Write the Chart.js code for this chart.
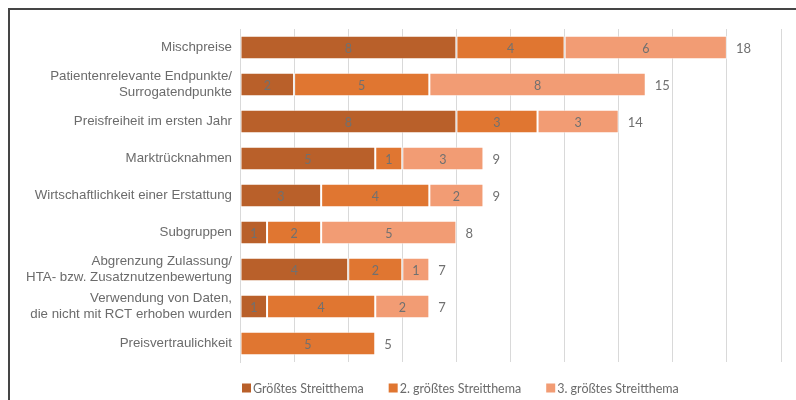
<!DOCTYPE html>
<html>
<head>
<meta charset="utf-8">
<script src="https://cdn.jsdelivr.net/npm/chart.js@4/dist/chart.umd.min.js"></script>
<style>
  html, body { margin: 0; padding: 0; background: #fff; }
  #wrap { position: relative; width: 796px; height: 400px; overflow: hidden; }
  #frame { position: absolute; left: 8px; top: 8px; width: 900px; height: 500px;
           border-left: 2px solid #454545; border-top: 2px solid #454545; box-sizing: border-box; }
  canvas { position: absolute; left: 0; top: 0; }
</style>
</head>
<body>
<div id="wrap">
  <div id="frame"></div>
  <canvas id="c" width="796" height="400"></canvas>
</div>
<script>
// Streitthemen in den Verhandlungen, nach Rang der Nennung
const categories = [
  'Mischpreise',
  ['Patientenrelevante Endpunkte/', 'Surrogatendpunkte'],
  'Preisfreiheit im ersten Jahr',
  'Marktrücknahmen',
  'Wirtschaftlichkeit einer Erstattung',
  'Subgruppen',
  ['Abgrenzung Zulassung/', 'HTA- bzw. Zusatznutzenbewertung'],
  ['Verwendung von Daten,', 'die nicht mit RCT erhoben wurden'],
  'Preisvertraulichkeit'
];
const seriesNames = ['Größtes Streitthema', '2. größtes Streitthema', '3. größtes Streitthema'];
const groesstes = [8, 2, 8, 5, 3, 1, 4, 1, 0];
const zweites   = [4, 5, 3, 1, 4, 2, 2, 4, 5];
const drittes   = [6, 8, 3, 3, 2, 5, 1, 2, 0];
const xTicks = [0, 2, 4, 6, 8, 10, 12, 14, 16, 18, 20];

const colors = ['#B9602A', '#E07631', '#F29C74'];
const seriesValues = [groesstes, zweites, drittes];

const totals = categories.map((_, i) => seriesValues.reduce((s, arr) => s + arr[i], 0));

const labelFont = 'Lato, "Open Sans", sans-serif';

// Writes segment values inside the bars and the row totals behind them
const valueLabels = {
  id: 'valueLabels',
  afterDatasetsDraw(chart) {
    const ctx = chart.ctx;
    ctx.save();
    ctx.font = '12.5px ' + labelFont;
    ctx.textBaseline = 'middle';
    ctx.fillStyle = '#707070';
    chart.data.datasets.forEach((ds, di) => {
      const meta = chart.getDatasetMeta(di);
      meta.data.forEach((bar, i) => {
        const v = ds.data[i];
        if (!v) return;
        ctx.textAlign = 'center';
        ctx.fillText(String(v), (bar.x + bar.base) / 2, bar.y + 1);
      });
    });
    const xScale = chart.scales.x;
    const firstMeta = chart.getDatasetMeta(0);
    ctx.font = '13px ' + labelFont;
    ctx.textAlign = 'left';
    totals.forEach((t, i) => {
      const y = firstMeta.data[i].y;
      ctx.fillText(String(t), xScale.getPixelForValue(t) + 9, y + 1);
    });
    ctx.restore();
  }
};

// Legend row under the plot, starting at the plot's left edge
const bottomLegend = {
  id: 'bottomLegend',
  afterDraw(chart) {
    const ctx = chart.ctx;
    const area = chart.chartArea;
    ctx.save();
    ctx.font = '12.5px ' + labelFont;
    ctx.textBaseline = 'middle';
    ctx.textAlign = 'left';
    const y = area.bottom + 26;
    let x = area.left + 2;
    chart.data.datasets.forEach((ds) => {
      ctx.fillStyle = ds.backgroundColor;
      ctx.fillRect(x, y - 4.5, 9, 9);
      ctx.fillStyle = '#6b6b6b';
      ctx.fillText(ds.label, x + 11, y + 0.5);
      x += 11 + ctx.measureText(ds.label).width + 25;
    });
    ctx.restore();
  }
};

new Chart(document.getElementById('c'), {
  type: 'bar',
  data: {
    labels: categories,
    datasets: seriesNames.map((name, k) => ({
      label: name,
      data: seriesValues[k],
      backgroundColor: colors[k],
      borderColor: 'rgba(255,255,255,0.55)',
      borderWidth: 1,
      borderSkipped: false,
      barPercentage: 0.63,
      categoryPercentage: 1
    }))
  },
  options: {
    indexAxis: 'y',
    responsive: false,
    animation: false,
    layout: { padding: { top: 29, right: 15, left: 0, bottom: 38 } },
    scales: {
      x: {
        stacked: true,
        min: 0,
        max: 20,
        afterBuildTicks: (s) => { s.ticks = xTicks.map(v => ({ value: v })); },
        afterFit: (s) => { s.height = 0; },
        ticks: { display: false },
        grid: { color: '#d9d9d9', lineWidth: 1, drawTicks: false },
        border: { display: false }
      },
      y: {
        stacked: true,
        afterFit: (s) => { s.width = 240; },
        ticks: {
          padding: 8,
          color: '#6b6b6b',
          font: { family: '"Liberation Sans", Arial, sans-serif', size: 13.3 }
        },
        grid: { display: false, drawTicks: false },
        border: { color: '#d9d9d9' }
      }
    },
    plugins: {
      legend: { display: false },
      tooltip: { enabled: false }
    }
  },
  plugins: [valueLabels, bottomLegend]
});
</script>
</body>
</html>
